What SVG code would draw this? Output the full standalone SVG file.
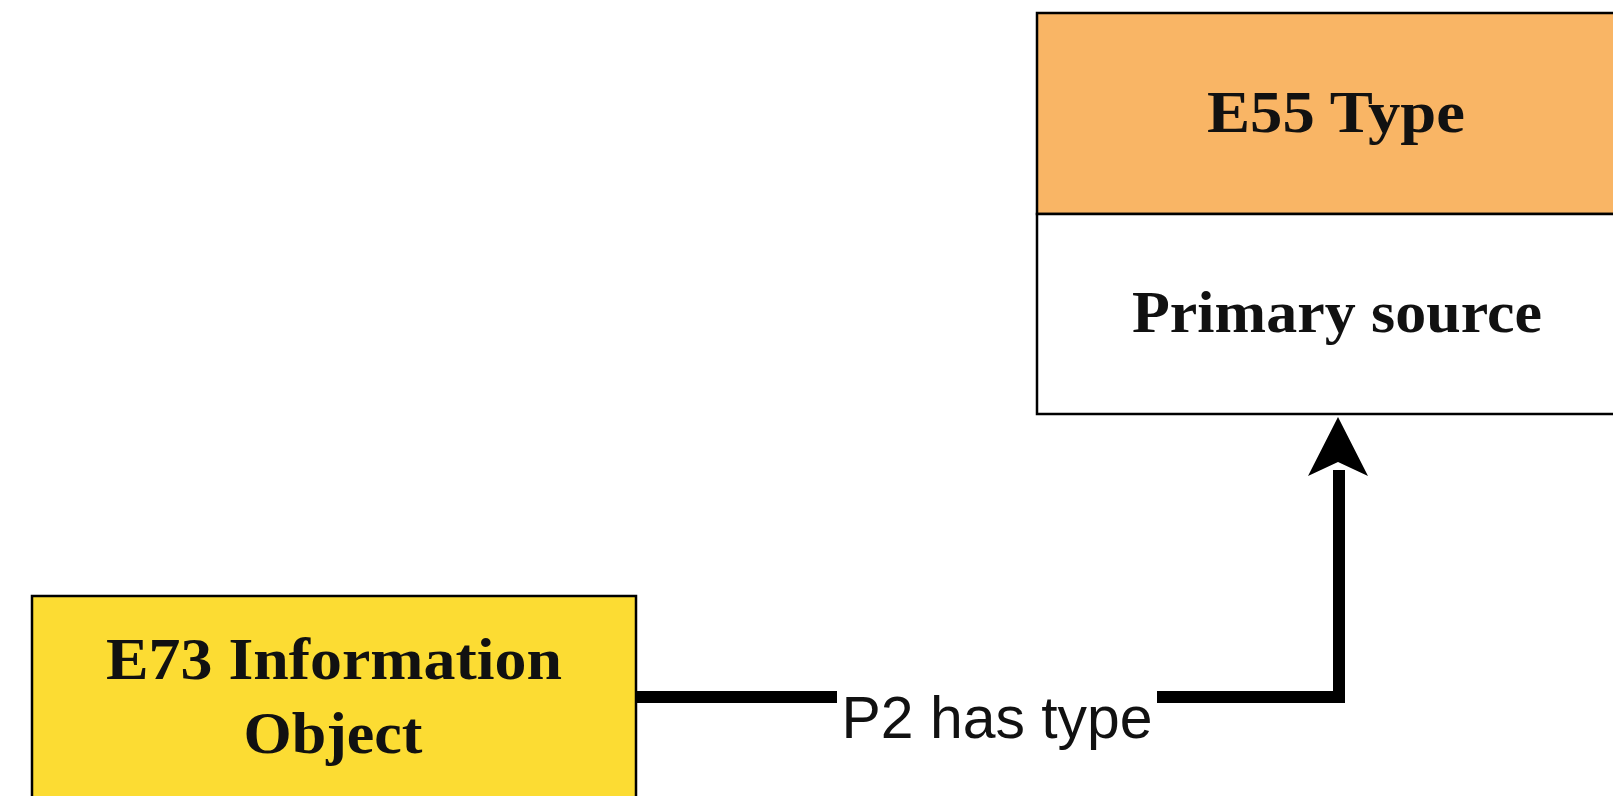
<svg xmlns="http://www.w3.org/2000/svg" width="1613" height="796" viewBox="0 0 1613 796">
  <style>
    .box { stroke: #000; stroke-width: 2.5; }
    .title { font-family: "Liberation Serif", "Times New Roman", serif; font-weight: bold; font-size: 60px; fill: #111; text-anchor: middle; }
    .edge-label { font-family: "Liberation Sans", Arial, sans-serif; font-size: 59px; fill: #111; text-anchor: middle; }
    .edge { fill: none; stroke: #000; stroke-width: 12; stroke-linejoin: miter; }
  </style>
  <defs>
    <marker id="arrow-classic" markerUnits="userSpaceOnUse" markerWidth="70" markerHeight="70" viewBox="0 0 70 70" refX="35" refY="2" orient="auto-start-reverse">
      <path d="M35 2 L65 60 L35 46 L5 60 Z" fill="#000"/>
    </marker>
  </defs>

  <rect width="1613" height="796" fill="#fff"/>

  <!-- E55 Type class box with its instance value -->
  <g id="node-e55">
    <rect class="box" x="1037" y="13" width="620" height="201" fill="#F9B565"/>
    <rect class="box" x="1037" y="214" width="620" height="200" fill="#fff"/>
    <text class="title" x="1336" y="132" textLength="258" lengthAdjust="spacingAndGlyphs">E55 Type</text>
    <text class="title" x="1337" y="332" textLength="410" lengthAdjust="spacingAndGlyphs">Primary source</text>
  </g>

  <!-- E73 Information Object class box -->
  <g id="node-e73">
    <rect class="box" x="32" y="596" width="604" height="205" fill="#FCDC33"/>
    <text class="title" x="334" y="679" textLength="456" lengthAdjust="spacingAndGlyphs">E73 Information</text>
    <text class="title" x="333" y="753" textLength="179" lengthAdjust="spacingAndGlyphs">Object</text>
  </g>

  <!-- P2 has type property -->
  <g id="connectors">
    <path class="edge" d="M636 697 H1339 V470"/>
    <path d="M1338 417 L1368 476 L1338 462 L1308 476 Z" fill="#000"/>
    <rect x="837" y="686" width="320" height="66" fill="#fff"/>
    <text class="edge-label" x="997" y="738" textLength="311" lengthAdjust="spacingAndGlyphs">P2 has type</text>
  </g>
</svg>
